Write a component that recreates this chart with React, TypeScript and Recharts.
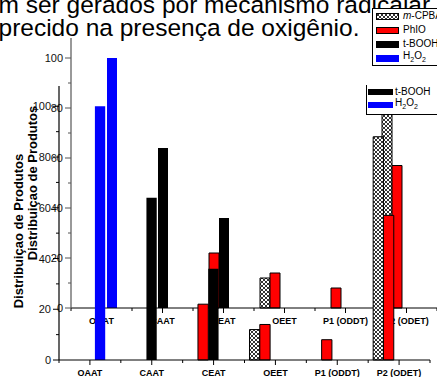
import React from 'react';
import { BarChart, Bar, XAxis, YAxis, Legend } from 'recharts';

const categories = ['OAAT', 'CAAT', 'CEAT', 'OEET', 'P1 (ODDT)', 'P2 (ODET)'];
// product distribution (%) per oxidant, null = no bar in that group
const mcpbaValues = [null, null, null, 12, null, 88];
const phioValues = [null, null, 22, 14, 8, 57];
const tboohValues = [null, 64, 36, null, null, null];
const h2o2Values = [100, null, null, null, null, null];
// the sheet had a 5th (empty) column, it still takes a bar slot
const emptyValues = [null, null, null, null, null, null];

const yTicks = [0, 10, 20, 30, 40, 50, 60, 70, 80, 90, 100];
const yMax = 108;
const yTitle = 'Distribuiçao de Produtos';
const textLines = ['m ser gerados por mecanismo radicalar', 'precido na presença de oxigênio.'];

const data = categories.map((name, i) => ({
  name,
  mcpba: mcpbaValues[i],
  phio: phioValues[i],
  tbooh: tboohValues[i],
  h2o2: h2o2Values[i],
  empty: emptyValues[i],
}));

const W = 437;
const H = 377;
const FONT = '"Liberation Sans", Arial, Helvetica, sans-serif';

const series = [
  { key: 'mcpba', name: 'm-CPBA', fill: 'hatch', stroke: '#000' },
  { key: 'phio', name: 'PhIO', fill: '#ff0000', stroke: '#000' },
  { key: 'tbooh', name: 't-BOOH', fill: '#000000', stroke: 'none' },
  { key: 'h2o2', name: 'H2O2', fill: '#0000ff', stroke: 'none' },
];

const renderName = (name: string) => {
  if (name === 'm-CPBA') return <><i>m</i>-CPBA</>;
  if (name === 'H2O2') return <>H<sub style={{ fontSize: 7 }}>2</sub>O<sub style={{ fontSize: 7 }}>2</sub></>;
  return name;
};

const Hatch = ({ id }: { id: string }) => (
  <pattern id={id} width={4} height={4} patternUnits="userSpaceOnUse">
    <rect width={4} height={4} fill="#fff" />
    <path d="M0,0L4,4M4,0L0,4" stroke="#000" strokeWidth={0.8} />
  </pattern>
);

const XTick = (props: any) => {
  const { x, y, payload, index, band, color } = props;
  const last = index === categories.length - 1;
  return (
    <g>
      <line x1={x} y1={y} x2={x} y2={y + 5} stroke={color} />
      <line x1={x - band / 2} y1={y} x2={x - band / 2} y2={y + 3} stroke={color} />
      {last && <line x1={x + band / 2} y1={y} x2={x + band / 2} y2={y + 3} stroke={color} />}
      <text x={x} y={y + 16} textAnchor="middle" fontFamily={FONT} fontSize={9} fontWeight="bold" fill="#000">
        {payload.value}
      </text>
    </g>
  );
};

const YTick = (props: any) => {
  const { x, y, payload, color } = props;
  const major = payload.value % 20 === 0;
  return (
    <g>
      <line x1={x - (major ? 6 : 3)} y1={y} x2={x} y2={y} stroke={color} />
      {major && (
        <text x={x - 8} y={y + 4} textAnchor="end" fontFamily={FONT} fontSize={11} fill="#111">
          {payload.value}
        </text>
      )}
    </g>
  );
};

const LegendBox = ({ cfg, id }: any) => (
  <div
    style={{
      background: '#fff',
      borderLeft: '1px solid #000',
      borderBottom: '1px solid #000',
      borderTop: cfg.topBorder ? '1px solid #000' : 'none',
      paddingBottom: cfg.padBottom,
      fontFamily: FONT,
      fontSize: 10,
      width: 90,
    }}
  >
    {series
      .filter((s) => cfg.keys.includes(s.key))
      .map((s) => (
        <div key={s.key} style={{ display: 'flex', alignItems: 'center', height: cfg.rowH, whiteSpace: 'nowrap' }}>
          <svg width={cfg.swatchW} height={cfg.swatchH} style={{ marginLeft: cfg.pad, flex: 'none' }}>
            <defs>
              <Hatch id={`lg-${id}`} />
            </defs>
            <rect
              x={0.5}
              y={0.5}
              width={cfg.swatchW - 1}
              height={cfg.swatchH - 1}
              fill={s.fill === 'hatch' ? `url(#lg-${id})` : s.fill}
              stroke={s.stroke === 'none' ? s.fill : s.stroke}
            />
          </svg>
          <span style={{ marginLeft: cfg.gap, lineHeight: `${cfg.rowH}px` }}>{renderName(s.name)}</span>
        </div>
      ))}
  </div>
);

const Panel = ({ id, plot, barSize, yColor, legend, title }: any) => {
  const yAxisW = 50;
  const xAxisH = 15;
  const band = (plot.right - plot.left) / categories.length;
  const margin = {
    top: plot.top,
    right: W - plot.right,
    bottom: H - plot.bottom - xAxisH,
    left: plot.left - yAxisW,
  };
  const renderTitle = (p: any) => {
    const vb = p.viewBox;
    const cx = vb.x + vb.width - title.fromAxis;
    const cy = vb.y + vb.height / 2 + title.dy;
    return (
      <text
        x={cx}
        y={cy}
        transform={`rotate(-90 ${cx} ${cy})`}
        textAnchor="middle"
        dominantBaseline="central"
        fontFamily={FONT}
        fontSize={13}
        fontWeight="bold"
        fill="#000"
      >
        {yTitle}
      </text>
    );
  };
  return (
    <BarChart width={W} height={H} data={data} margin={margin} barGap={0}>
      <defs>
        <Hatch id={`bar-${id}`} />
      </defs>
      <XAxis
        dataKey="name"
        height={xAxisH}
        interval={0}
        tickSize={0}
        tickMargin={0}
        tickLine={false}
        axisLine={{ stroke: '#000' }}
        tick={(p: any) => <XTick {...p} band={band} color="#000" />}
      />
      <YAxis
        width={yAxisW}
        domain={[0, yMax]}
        ticks={yTicks}
        interval={0}
        tickSize={0}
        tickMargin={0}
        tickLine={false}
        axisLine={{ stroke: yColor, strokeWidth: 1.2 }}
        tick={(p: any) => <YTick {...p} color={yColor} />}
        label={{ content: renderTitle }}
      />
      <Legend
        layout="vertical"
        align="center"
        verticalAlign="middle"
        wrapperStyle={{ left: legend.x, top: legend.y, width: 90 }}
        content={() => <LegendBox cfg={legend} id={id} />}
      />
      {series.map((s) => (
        <Bar
          key={s.key}
          dataKey={s.key}
          name={s.name}
          barSize={barSize}
          fill={s.fill === 'hatch' ? `url(#bar-${id})` : s.fill}
          stroke={s.stroke}
          strokeWidth={1}
          isAnimationActive={false}
        />
      ))}
      <Bar dataKey="empty" barSize={barSize} fill="none" legendType="none" isAnimationActive={false} />
    </BarChart>
  );
};

const panelBack = {
  id: 'a',
  plot: { left: 71, right: 437, top: 38, bottom: 308 },
  barSize: 10,
  yColor: '#555',
  legend: { x: 366, y: 85, keys: ['tbooh', 'h2o2'], swatchW: 25, swatchH: 6, rowH: 13, pad: 1, gap: 2, topBorder: false, padBottom: 3 },
  title: { fromAxis: 38.5, dy: 10 },
};

const panelFront = {
  id: 'b',
  plot: { left: 59, right: 430, top: 86, bottom: 360 },
  barSize: 10.3,
  yColor: '#000',
  legend: { x: 372, y: 8, keys: ['mcpba', 'phio', 'tbooh', 'h2o2'], swatchW: 23, swatchH: 7, rowH: 14, pad: 3, gap: 4, topBorder: true, padBottom: 0 },
  title: { fromAxis: 41, dy: 8 },
};

export default function App() {
  return (
    <div style={{ position: 'absolute', left: 0, top: 0, width: W, height: H, overflow: 'hidden', background: '#fff' }}>
      <svg style={{ position: 'absolute', left: 0, top: 0 }} width={W} height={50}>
        {textLines.map((t, i) => (
          <text key={i} x={-1.5} y={13 + i * 23} fontFamily={FONT} fontSize={24.5} fill="#000">
            {t}
          </text>
        ))}
      </svg>
      <div style={{ position: 'absolute', left: 0, top: 0 }}>
        <Panel {...panelBack} />
      </div>
      <div style={{ position: 'absolute', left: 0, top: 0 }}>
        <Panel {...panelFront} />
      </div>
    </div>
  );
}
